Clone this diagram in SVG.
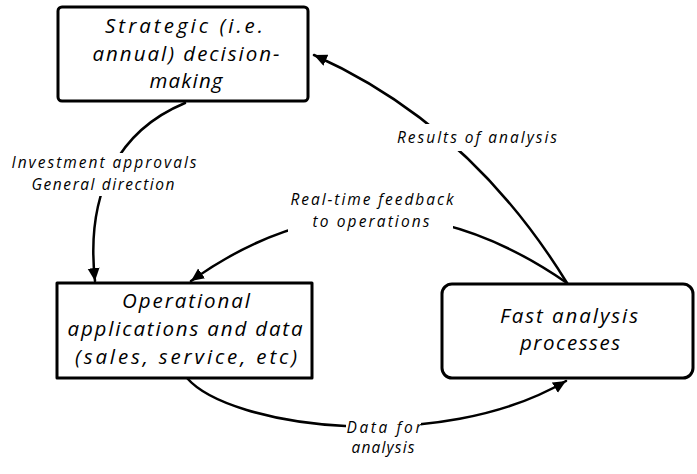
<svg xmlns="http://www.w3.org/2000/svg" width="697" height="474" viewBox="0 0 697 474">
<style>
.box{fill:#fff;stroke:#000;stroke-width:3;stroke-linejoin:round}
.conn{fill:none;stroke:#000;stroke-width:2.5;stroke-linecap:round}
.t{font-family:"Open Sans","DejaVu Sans",sans-serif;font-style:italic;fill:#000;text-anchor:middle}
.big{font-size:20.5px}
.lbl{font-size:15.5px}
.bg{fill:#fff;stroke:none}
</style>
<defs>
<marker id="ah" markerUnits="userSpaceOnUse" markerWidth="16" markerHeight="14" refX="13" refY="6" orient="auto">
<path d="M0,0 L13,6 L0,12 Z" fill="#000"/>
</marker>
</defs>
<g id="connectors">
<path class="conn" d="M185,103 C120,130 85,190 95,281" marker-end="url(#ah)"/>
<path class="conn" d="M567,283 Q375,150 191,281" marker-end="url(#ah)"/>
<path class="conn" d="M567,283 Q470,125 314,55" marker-end="url(#ah)"/>
<path class="conn" d="M187,378 C230,428 440,455 566,381" marker-end="url(#ah)"/>
</g>
<g id="labels">
<rect class="bg" x="8" y="153" width="192" height="43"/>
<text class="t lbl" x="104" y="168" textLength="185" lengthAdjust="spacing">Investment approvals</text>
<text class="t lbl" x="103" y="190" textLength="143" lengthAdjust="spacing">General direction</text>
<rect class="bg" x="288" y="188" width="165" height="46"/>
<text class="t lbl" x="372" y="205" textLength="163" lengthAdjust="spacing">Real-time feedback</text>
<text class="t lbl" x="371" y="227" textLength="117" lengthAdjust="spacing">to operations</text>
<rect class="bg" x="395" y="124" width="164" height="27"/>
<text class="t lbl" x="477" y="143" textLength="160" lengthAdjust="spacing">Results of analysis</text>
<rect class="bg" x="346" y="416" width="75" height="42"/>
<text class="t lbl" x="384" y="433" textLength="75" lengthAdjust="spacing">Data for</text>
<text class="t lbl" x="383" y="453" textLength="63" lengthAdjust="spacing">analysis</text>
</g>
<g id="strategic">
<rect class="box" x="58" y="7" width="250" height="94" rx="4"/>
<text class="t big" x="184" y="33" textLength="158" lengthAdjust="spacing">Strategic (i.e.</text>
<text class="t big" x="186" y="61" textLength="187" lengthAdjust="spacing">annual) decision-</text>
<text class="t big" x="186" y="88" textLength="73" lengthAdjust="spacing">making</text>
</g>
<g id="operational">
<rect class="box" x="57" y="283" width="255" height="95"/>
<text class="t big" x="186" y="308" textLength="128" lengthAdjust="spacing">Operational</text>
<text class="t big" x="185" y="336" textLength="235" lengthAdjust="spacing">applications and data</text>
<text class="t big" x="186" y="364" textLength="222" lengthAdjust="spacing">(sales, service, etc)</text>
</g>
<g id="fast">
<rect class="box" x="442" y="284" width="251" height="94" rx="10"/>
<text class="t big" x="569" y="323" textLength="138" lengthAdjust="spacing">Fast analysis</text>
<text class="t big" x="570" y="350" textLength="100" lengthAdjust="spacing">processes</text>
</g>
</svg>
